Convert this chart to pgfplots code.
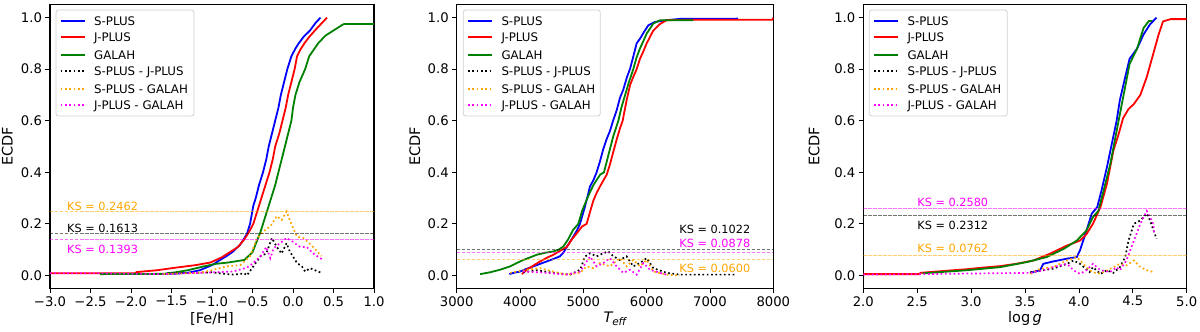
\documentclass[border=0pt]{standalone}
\usepackage{fontspec}
\setmainfont{DejaVu Sans}
\usepackage{pgfplots}
\pgfplotsset{compat=1.18}
\definecolor{mplorange}{RGB}{255,165,0}
\definecolor{mplgreen}{RGB}{0,128,0}
\definecolor{mplblue}{RGB}{0,0,255}
\definecolor{mplred}{RGB}{255,0,0}
\definecolor{mplmag}{RGB}{255,0,255}
\tikzset{
  styleSP/.style={color=mplblue, line width=1.8pt},
  styleJP/.style={color=mplred, line width=1.8pt},
  styleGA/.style={color=mplgreen, line width=1.8pt},
  styleSJ/.style={color=black, line width=1.7pt, dash pattern=on 1.7pt off 2.6pt},
  styleSG/.style={color=mplorange, line width=1.7pt, dash pattern=on 1.7pt off 2.6pt},
  styleJG/.style={color=mplmag, line width=1.7pt, dash pattern=on 1.7pt off 2.6pt},
}
\pgfplotsset{
  ecdf/.style={
    scale only axis,
    height=283.6pt,
    ymin=-0.05, ymax=1.05,
    ytick={0,0.2,0.4,0.6,0.8,1.0},
    yticklabels={0.0,0.2,0.4,0.6,0.8,1.0},
    tick align=outside,
    major tick length=4.5pt,
    tick style={black, line width=0.8pt},
    xtick pos=bottom, ytick pos=left,
    axis line style={line width=1.1pt},
    ticklabel style={font=\fontsize{13.2}{15}\selectfont},
    label style={font=\fontsize{14.5}{17}\selectfont},
    ylabel={ECDF},
    ylabel style={at={(axis description cs:-0.132,0.5)}, anchor=center},
    xlabel style={at={(axis description cs:0.5,-0.108)}, anchor=center},
  },
  ksline/.style={line width=1.1pt, dash pattern=on 3.5pt off 1.5pt, opacity=0.55, forget plot},
}
\newcommand{\ks}[4]{\node[anchor=west, inner sep=0pt, font=\fontsize{11.3}{12}\selectfont, text=#1] at (axis cs:#2,#3) {KS = #4};}
% manual legend rows: style, y offset from axis top, text
\newcommand{\lgrow}[3]{%
  \draw[#1, line width=2pt] (10.7pt,#2) -- (35pt,#2);
  \node[anchor=base west, inner sep=0pt, font=\fontsize{11.8}{13}\selectfont] at (44pt,\dimexpr#2-4.3pt\relax) {#3};}
\newcommand{\mylegend}[2]{%
  \begin{scope}[shift={(#1,327.3pt)}]
  \draw[black!18, fill=white, line width=0.8pt, rounded corners=2.5pt] (6pt,-5.3pt) rectangle (#2,-111.3pt);
  \lgrow{styleSP}{-16.3pt}{S-PLUS}
  \lgrow{styleJP}{-32.3pt}{J-PLUS}
  \lgrow{styleGA}{-50.3pt}{GALAH}
  \lgrow{styleSJ}{-66.3pt}{S-PLUS - J-PLUS}
  \lgrow{styleSG}{-84.3pt}{S-PLUS - GALAH}
  \lgrow{styleJG}{-100.3pt}{J-PLUS - GALAH}
  \end{scope}}
\begin{document}
\begin{tikzpicture}
\useasboundingbox (0,0) rectangle (1200pt,332pt);
% ---------------- Panel 1 ----------------
\begin{axis}[ecdf, at={(50pt,43.7pt)}, anchor=south west, width=324pt,
  xmin=-3, xmax=1,
  xtick={-3,-2.5,-2,-1.5,-1,-0.5,0,0.5,1},
  xticklabels={−3.0,−2.5,−2.0,−1.5,−1.0,−0.5,0.0,0.5,1.0},
  xlabel={[Fe/H]}]
\addplot[styleSP] coordinates {(-1.60,0.005)(-1.45,0.007)(-1.3,0.01)(-1.15,0.02)(-1.0,0.04)(-0.9,0.06)(-0.82,0.075)(-0.75,0.09)(-0.65,0.12)(-0.57,0.16)(-0.53,0.2)(-0.49,0.27)(-0.46,0.3)(-0.42,0.35)(-0.37,0.4)(-0.33,0.45)(-0.3,0.5)(-0.26,0.55)(-0.22,0.6)(-0.18,0.65)(-0.15,0.7)(-0.11,0.75)(-0.07,0.8)(-0.02,0.85)(0.03,0.88)(0.07,0.9)(0.13,0.925)(0.21,0.95)(0.28,0.98)(0.34,1.0)};
\addplot[styleJP] coordinates {(-3.0,0.008)(-1.95,0.008)(-1.93,0.013)(-1.68,0.02)(-1.45,0.03)(-1.2,0.04)(-1.02,0.05)(-0.88,0.07)(-0.78,0.09)(-0.68,0.11)(-0.6,0.14)(-0.54,0.17)(-0.49,0.2)(-0.44,0.25)(-0.39,0.3)(-0.34,0.35)(-0.29,0.4)(-0.25,0.45)(-0.22,0.5)(-0.17,0.55)(-0.13,0.6)(-0.09,0.65)(-0.06,0.7)(-0.02,0.75)(0.02,0.8)(0.05,0.85)(0.09,0.875)(0.14,0.9)(0.2,0.925)(0.27,0.95)(0.36,0.98)(0.42,1.0)};
\addplot[styleGA] coordinates {(-2.38,0.005)(-1.6,0.006)(-1.45,0.012)(-1.3,0.02)(-1.1,0.035)(-0.95,0.045)(-0.8,0.05)(-0.6,0.06)(-0.5,0.09)(-0.45,0.13)(-0.4,0.17)(-0.37,0.2)(-0.32,0.25)(-0.27,0.3)(-0.22,0.35)(-0.18,0.4)(-0.14,0.45)(-0.1,0.5)(-0.06,0.55)(-0.02,0.6)(0.0,0.65)(0.03,0.7)(0.08,0.75)(0.15,0.8)(0.2,0.85)(0.31,0.9)(0.4,0.93)(0.5,0.95)(0.6,0.97)(0.63,0.975)(1.0,0.975)};
\addplot[styleSJ] coordinates {(-1.55,0.008)(-1.2,0.01)(-1.0,0.012)(-0.9,0.008)(-0.74,0.003)(-0.6,0.008)(-0.57,0.0)(-0.49,0.035)(-0.4,0.075)(-0.33,0.085)(-0.26,0.145)(-0.2,0.11)(-0.14,0.085)(-0.08,0.125)(-0.04,0.093)(0.05,0.048)(0.11,0.035)(0.15,0.015)(0.21,0.028)(0.31,0.015)(0.35,0.01)};
\addplot[styleSG] coordinates {(-1.6,0.005)(-1.2,0.01)(-1.07,0.015)(-0.82,0.035)(-0.65,0.04)(-0.53,0.075)(-0.45,0.14)(-0.37,0.17)(-0.28,0.19)(-0.2,0.23)(-0.14,0.215)(-0.08,0.248)(-0.02,0.2)(0.05,0.15)(0.13,0.145)(0.25,0.11)(0.35,0.075)};
\addplot[styleJG] coordinates {(-3.0,0.008)(-2.38,0.008)(-1.6,0.005)(-1.15,0.01)(-0.74,0.015)(-0.57,0.03)(-0.49,0.048)(-0.4,0.075)(-0.33,0.11)(-0.28,0.067)(-0.24,0.105)(-0.16,0.125)(-0.08,0.145)(0.0,0.13)(0.09,0.11)(0.17,0.11)(0.25,0.085)(0.37,0.06)};
\addplot[ksline, color=mplorange] coordinates {(-3,0.2462)(1,0.2462)};
\addplot[ksline, color=black] coordinates {(-3,0.1613)(1,0.1613)};
\addplot[ksline, color=mplmag] coordinates {(-3,0.1393)(1,0.1393)};
\ks{mplorange}{-2.79}{0.266}{0.2462}
\ks{black}{-2.79}{0.182}{0.1613}
\ks{mplmag}{-2.79}{0.102}{0.1393}
\end{axis}
\mylegend{50pt}{144pt}
% ---------------- Panel 2 ----------------
\begin{axis}[ecdf, at={(456.7pt,43.7pt)}, anchor=south west, width=316.6pt,
  xmin=3000, xmax=8000,
  xtick={3000,4000,5000,6000,7000,8000},
  xticklabels={3000,4000,5000,6000,7000,8000},
  xlabel={{\itshape T\kern-0.02em\raisebox{-0.4ex}{\fontsize{10.5}{10}\selectfont eff}}}]
\addplot[styleSP] coordinates {(3832,0.005)(3900,0.01)(4000,0.015)(4100,0.025)(4210,0.035)(4320,0.045)(4420,0.054)(4530,0.064)(4630,0.074)(4690,0.09)(4737,0.11)(4790,0.13)(4840,0.15)(4900,0.175)(4947,0.2)(5026,0.267)(5105,0.345)(5160,0.37)(5210,0.4)(5260,0.44)(5315,0.49)(5370,0.53)(5420,0.56)(5470,0.6)(5526,0.64)(5580,0.69)(5630,0.72)(5690,0.77)(5736,0.8)(5790,0.85)(5842,0.9)(5900,0.92)(5947,0.94)(6026,0.97)(6130,0.983)(6316,0.99)(6526,0.995)(7430,0.995)(7430,1.0)};
\addplot[styleJP] coordinates {(4030,0.005)(4105,0.022)(4210,0.038)(4316,0.054)(4420,0.068)(4526,0.08)(4630,0.095)(4737,0.11)(4820,0.14)(4895,0.163)(4980,0.19)(5052,0.2)(5110,0.25)(5158,0.29)(5210,0.32)(5263,0.345)(5320,0.37)(5368,0.39)(5420,0.43)(5474,0.48)(5530,0.53)(5578,0.57)(5621,0.6)(5684,0.68)(5740,0.74)(5789,0.77)(5842,0.8)(5894,0.84)(5950,0.87)(6000,0.9)(6105,0.95)(6210,0.975)(6316,0.99)(6842,0.992)(7990,0.992)(8000,1.0)};
\addplot[styleGA] coordinates {(3370,0.005)(3526,0.012)(3684,0.022)(3842,0.035)(3950,0.048)(4052,0.06)(4160,0.07)(4263,0.08)(4400,0.088)(4526,0.093)(4610,0.1)(4684,0.112)(4760,0.14)(4840,0.177)(4921,0.2)(4980,0.25)(5052,0.293)(5100,0.32)(5158,0.35)(5210,0.37)(5263,0.39)(5326,0.4)(5368,0.44)(5420,0.49)(5473,0.54)(5553,0.6)(5600,0.65)(5660,0.7)(5720,0.75)(5789,0.8)(5840,0.845)(5894,0.88)(5950,0.91)(6000,0.938)(6105,0.977)(6210,0.99)(6737,0.99)};
\addplot[styleSJ] coordinates {(4050,0.012)(4263,0.02)(4526,0.01)(4790,0.003)(4950,0.022)(5026,0.073)(5105,0.086)(5210,0.074)(5315,0.086)(5395,0.093)(5473,0.074)(5578,0.06)(5684,0.074)(5789,0.035)(5894,0.048)(6000,0.067)(6105,0.028)(6316,0.01)(6526,0.003)(7420,0.003)};
\addplot[styleSG] coordinates {(3842,0.01)(4105,0.022)(4316,0.028)(4526,0.015)(4737,0.003)(4950,0.01)(5052,0.035)(5158,0.028)(5263,0.048)(5420,0.035)(5578,0.067)(5684,0.035)(5789,0.06)(5894,0.035)(6000,0.06)(6105,0.015)(6316,0.003)(6526,0.0)};
\addplot[styleJG] coordinates {(4050,0.015)(4316,0.012)(4737,0.003)(4950,0.015)(5052,0.054)(5105,0.073)(5210,0.035)(5315,0.048)(5420,0.067)(5526,0.035)(5630,0.01)(5736,0.022)(5842,0.003)(5947,0.048)(6052,0.022)(6210,0.01)(6316,0.003)};
\addplot[ksline, color=black] coordinates {(3000,0.1022)(8000,0.1022)};
\addplot[ksline, color=mplmag] coordinates {(3000,0.0878)(8000,0.0878)};
\addplot[ksline, color=mplorange] coordinates {(3000,0.0600)(8000,0.0600)};
\ks{black}{6515}{0.177}{0.1022}
\ks{mplmag}{6515}{0.123}{0.0878}
\ks{mplorange}{6515}{0.026}{0.0600}
\end{axis}
\mylegend{457.3pt}{143pt}
% ---------------- Panel 3 ----------------
\begin{axis}[ecdf, at={(863.3pt,43.7pt)}, anchor=south west, width=323.4pt,
  xmin=2, xmax=5,
  xtick={2,2.5,3,3.5,4,4.5,5},
  xticklabels={2.0,2.5,3.0,3.5,4.0,4.5,5.0},
  ylabel style={at={(axis description cs:-0.152,0.5)}},
  xlabel={log\,\textit{g}}]
\addplot[styleSP] coordinates {(3.547,0.01)(3.64,0.02)(3.67,0.045)(3.76,0.054)(3.89,0.065)(3.98,0.071)(4.01,0.097)(4.04,0.135)(4.07,0.174)(4.12,0.24)(4.17,0.265)(4.21,0.33)(4.26,0.42)(4.3,0.5)(4.35,0.6)(4.38,0.68)(4.43,0.77)(4.47,0.84)(4.54,0.88)(4.6,0.935)(4.66,0.974)(4.72,1.0)};
\addplot[styleJP] coordinates {(2.0,0.005)(2.52,0.005)(2.53,0.01)(2.77,0.018)(2.96,0.024)(3.1,0.03)(3.27,0.036)(3.42,0.045)(3.58,0.058)(3.73,0.084)(3.89,0.116)(4.01,0.135)(4.07,0.16)(4.13,0.2)(4.2,0.265)(4.26,0.355)(4.32,0.484)(4.37,0.55)(4.41,0.61)(4.46,0.645)(4.51,0.665)(4.57,0.7)(4.63,0.77)(4.69,0.86)(4.74,0.935)(4.78,0.985)(4.85,0.994)(5.0,0.994)};
\addplot[styleGA] coordinates {(2.55,0.008)(2.96,0.02)(3.27,0.032)(3.52,0.052)(3.7,0.071)(3.86,0.103)(3.98,0.135)(4.07,0.174)(4.13,0.226)(4.18,0.25)(4.23,0.33)(4.29,0.43)(4.35,0.56)(4.41,0.69)(4.47,0.82)(4.54,0.88)(4.6,0.96)(4.65,0.987)(4.68,0.987)};
\addplot[styleSJ] coordinates {(3.55,0.013)(3.67,0.02)(3.76,0.026)(3.89,0.045)(3.95,0.058)(4.01,0.045)(4.1,0.013)(4.13,0.032)(4.2,0.006)(4.26,0.02)(4.32,0.01)(4.38,0.032)(4.43,0.071)(4.46,0.135)(4.51,0.2)(4.57,0.213)(4.63,0.24)(4.66,0.213)(4.72,0.142)};
\addplot[styleSG] coordinates {(3.55,0.006)(3.64,0.026)(3.76,0.032)(3.89,0.058)(3.98,0.071)(4.04,0.045)(4.1,0.02)(4.17,0.006)(4.23,0.013)(4.32,0.032)(4.38,0.045)(4.44,0.039)(4.51,0.058)(4.57,0.032)(4.63,0.02)(4.69,0.013)};
\addplot[styleJG] coordinates {(2.0,0.003)(2.55,0.005)(3.55,0.01)(3.67,0.02)(3.76,0.032)(3.89,0.045)(3.95,0.02)(4.01,0.006)(4.07,0.02)(4.13,0.045)(4.2,0.02)(4.29,0.013)(4.35,0.032)(4.38,0.02)(4.44,0.058)(4.51,0.135)(4.57,0.2)(4.63,0.25)(4.69,0.2)(4.7,0.16)};
\addplot[ksline, color=mplmag] coordinates {(2,0.2580)(5,0.2580)};
\addplot[ksline, color=black] coordinates {(2,0.2312)(5,0.2312)};
\addplot[ksline, color=mplorange] coordinates {(2,0.0762)(5,0.0762)};
\ks{mplmag}{2.5}{0.285}{0.2580}
\ks{black}{2.5}{0.194}{0.2312}
\ks{mplorange}{2.5}{0.103}{0.0762}
\end{axis}
\mylegend{863.3pt}{144pt}
\end{tikzpicture}
\end{document}
